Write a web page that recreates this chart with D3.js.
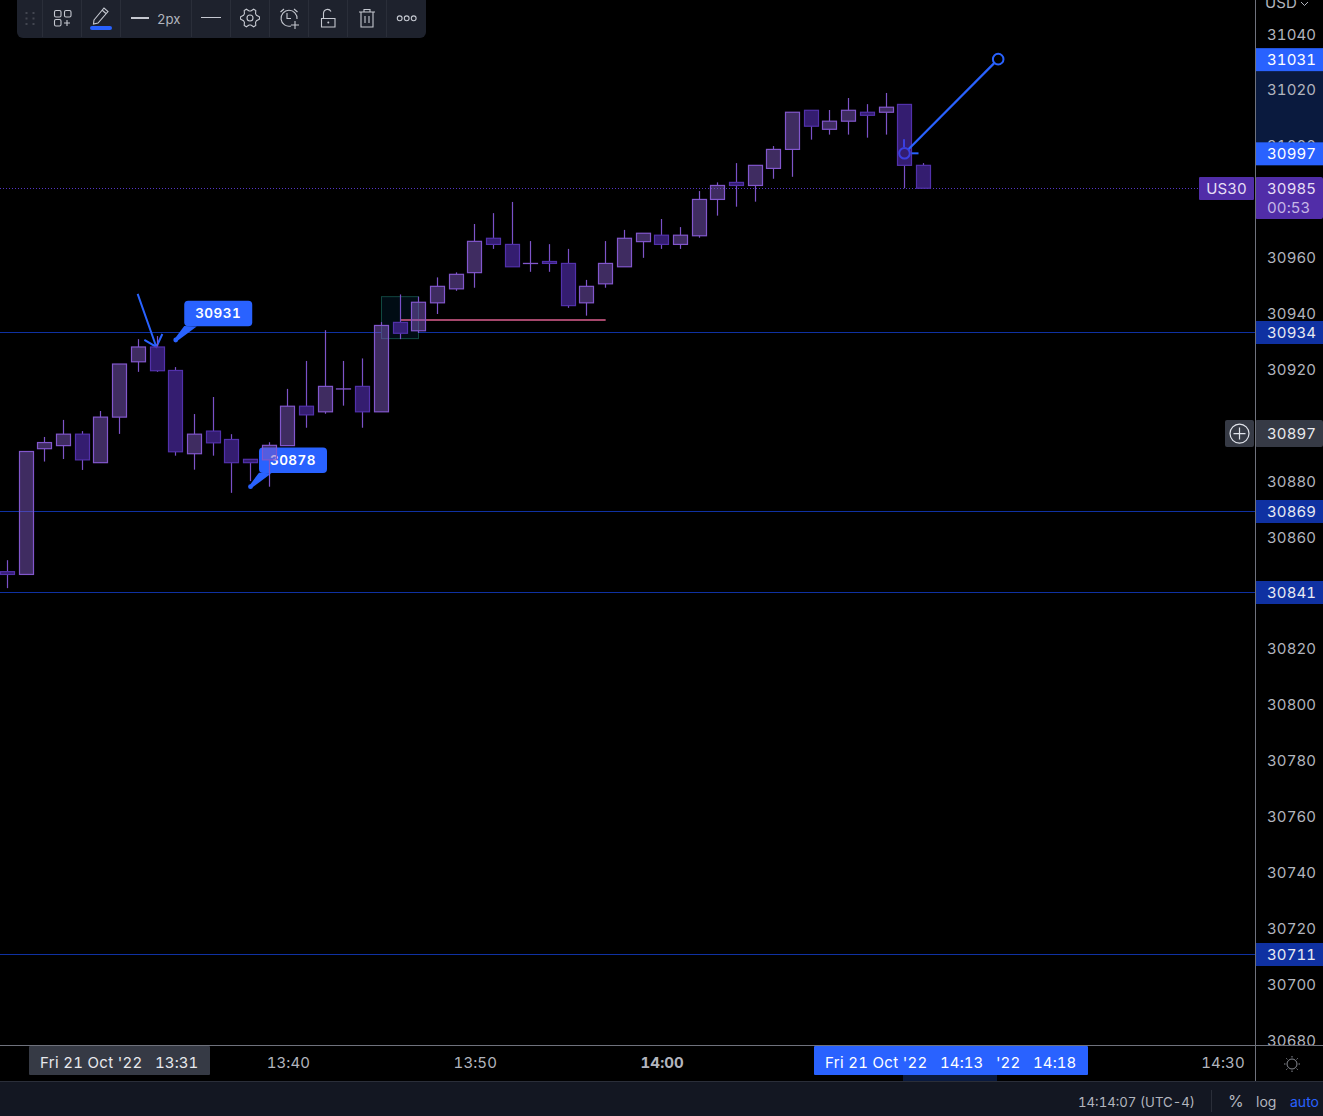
<!DOCTYPE html>
<html><head><meta charset="utf-8">
<script src="https://cdn.jsdelivr.net/npm/d3@7"></script>
<style>html,body{margin:0;padding:0;background:#000;overflow:hidden}svg{display:block}text{font-family:Inter,"Noto Sans",sans-serif;font-feature-settings:"tnum" 1;font-variant-numeric:tabular-nums}</style>
</head><body><svg id="c" width="1323" height="1116"></svg>
<script>
const opens=[30847.6,30846.6,30891.6,30892.7,30896.8,30886.6,30902.9,30922.7,30928,30919.6,30889.8,30897.9,30894.9,30887.8,30887.6,30892.7,30906.8,30904.8,30913,30913.9,30904.8,30936.8,30933.8,30943.8,30948.8,30954.6,30966.9,30964.7,30957.9,30958.6,30957.9,30943.8,30950.6,30956.7,30965.7,30968,30964.7,30967.8,30980.8,30986.9,30985.8,30991.9,30998.7,31012.7,31005.9,31008.8,31012,31012,31014.8,30993];
const closes=[30846.6,30890.6,30893.8,30896.8,30887.6,30902.9,30921.9,30928,30919.5,30890.5,30896.8,30893.7,30886.6,30886.6,30892.8,30906.8,30903.7,30913.9,30913,30904.8,30935.7,30932.9,30944,30949.7,30954,30965.8,30964.7,30956.7,30957.9,30957.9,30942.8,30949.7,30957.9,30966.9,30968.7,30964.7,30968,30980.8,30985.8,30985.8,30993,30998.7,31012,31007,31008.8,31012.7,31010.9,31013.8,30993,30984.8];
const highs=[30851.7,30890.6,30895.8,30901.9,30897.9,30905.1,30921.9,30930.8,30931.9,30920.8,30904,30910.1,30896.8,30887.8,30893.9,30913,30923,30934,30923,30923.9,30936.9,30946.8,30946,30952.9,30954.7,30972,30975.9,30979.9,30965.9,30964.8,30963.1,30952,30965.9,30969.9,30968.7,30973.8,30970.9,30983.8,30986.9,30993.8,30993,30999.9,31012,31012.7,31012.8,31017.1,31014.9,31018.9,31014.8,30993.8];
const lows=[30841.7,30846.6,30887,30887.9,30884,30886.5,30896.9,30919.1,30919.1,30889.1,30884.1,30889.1,30875.8,30880,30878,30892.7,30899.1,30904.1,30907,30899.1,30904.8,30930.8,30933,30939.8,30948.1,30949.2,30963.1,30956.7,30954.9,30954.9,30942,30939.2,30949.2,30956.7,30959.9,30963.1,30963.1,30967.1,30975,30978.2,30980,30988.2,30988.9,31002.2,31004,31004,31002.9,31004,30984.8,30984.8];
const dirs=["d","u","u","u","d","u","u","u","d","d","u","d","d","d","u","u","d","u","u","d","u","d","u","u","u","u","d","d","u","d","d","u","u","u","u","d","u","u","u","d","u","u","u","d","u","u","d","u","d","d"];
const priceTicks=[31040,31020,31000,30980,30960,30940,30920,30900,30880,30860,30840,30820,30800,30780,30760,30740,30720,30700,30680];
const levels=[30933.4,30869.3,30840.3,30710.7];
const levelLabels=["30934","30869","30841","30711"];
const lastPrice=30985, lastLabel="30985", countdown="00:53", symbol="US30";
const cursorPrice=30897, cursorLabel="30897";
const toolA=31031, toolB=30997.3, toolALabel="31031", toolBLabel="30997";
const timeTickLabels=["13:40","13:50","14:00","14:30"];
const timeTickMinutes=[15,25,35,65];
const callouts=[{label:"30931",i:9,p:30930.5},{label:"30878",i:13,p:30878}];

const W=1323,H=1116,axisX=1255,paneB=1045,timeB=1081;
const y=d3.scaleLinear().domain([31040,30680]).range([34,1040]);
const x=d3.scaleLinear().domain([0,65]).range([7.5,1222.5]);
const svg=d3.select("#c");
const colors={up:{fill:"#7e57c2",op:.5,stroke:"#8257cc",wick:"#7e54c8"},d:{fill:"#4a2aa0",op:.7,stroke:"#5231ab",wick:"#7a50c8"}};
const FONT=15, LS=.1, levelBlue="#0f31a2";

svg.append("rect").attr("width",W).attr("height",H).attr("fill","#000");

const plot=svg.append("g");
plot.selectAll("line.lvl").data(levels).join("line").attr("x1",0).attr("x2",axisX)
  .attr("y1",d=>Math.round(y(d))+.5).attr("y2",d=>Math.round(y(d))+.5).attr("stroke",levelBlue);
plot.append("line").attr("x1",0).attr("x2",1199).attr("y1",Math.round(y(lastPrice))+.5).attr("y2",Math.round(y(lastPrice))+.5)
  .attr("stroke","#5535c4").attr("stroke-dasharray","1 2");

plot.append("rect").attr("x",Math.floor(x(21))-18.5).attr("y",y(30946)).attr("width",37).attr("height",y(30931)-y(30946))
  .attr("fill","#010c14").attr("stroke","#114840");
plot.append("line").attr("x1",x(21)).attr("x2",x(32)).attr("y1",Math.round(y(30937.7))).attr("y2",Math.round(y(30937.7))).attr("stroke","#a5476b").attr("stroke-width",2);

const blue="#2962ff";
const ax=x(7)+18, ay=y(30928);
plot.append("path").attr("fill","none").attr("stroke",blue).attr("stroke-width",2)
  .attr("d",`M${x(7)-0.7} ${y(30947)}L${ax} ${ay}M${ax-12} ${ay-7}L${ax} ${ay}L${ax+6} ${ay-13}`);

callouts.forEach(c=>{
  const px=x(c.i),py=y(c.p),g=plot.append("g");
  const rx=px+8.5,ry=py-39.3;
  g.append("path").attr("fill",blue).attr("d",`M${px-.5} ${py-2}L${px+1.5} ${py+1}L${px+21} ${py-13.5}L${px+8.5} ${py-14}Z`);
  g.append("circle").attr("cx",px).attr("cy",py).attr("r",2.4).attr("fill",blue);
  g.append("rect").attr("x",rx).attr("y",ry).attr("width",68).attr("height",25.5).attr("rx",4).attr("fill",blue);
  g.append("text").attr("x",rx+34).attr("y",ry+17.3).attr("text-anchor","middle").attr("fill","#fff")
    .attr("font-size",13.5).attr("font-weight",600).attr("letter-spacing",.5).text(c.label);
});

const tx1=Math.floor(x(48))+.5,ty1=y(toolB),tx2=x(53),ty2=y(toolA);

const candles=plot.append("g").selectAll("g").data(opens.map((o,i)=>({i,o,c:closes[i],h:highs[i],l:lows[i],dir:dirs[i]=="u"?"up":"d"}))).join("g");
candles.append("line").attr("x1",d=>Math.floor(x(d.i))+.5).attr("x2",d=>Math.floor(x(d.i))+.5)
  .attr("y1",d=>y(d.h)).attr("y2",d=>y(Math.max(d.o,d.c))).attr("stroke",d=>colors[d.dir].wick).attr("stroke-width",1.2);
candles.append("line").attr("x1",d=>Math.floor(x(d.i))+.5).attr("x2",d=>Math.floor(x(d.i))+.5)
  .attr("y1",d=>y(Math.min(d.o,d.c))).attr("y2",d=>y(d.l)).attr("stroke",d=>colors[d.dir].wick).attr("stroke-width",1.2);
candles.append("rect").attr("x",d=>Math.floor(x(d.i))-6.5).attr("width",14)
  .attr("y",d=>y(Math.max(d.o,d.c))).attr("height",d=>Math.max(.1,Math.abs(y(d.o)-y(d.c))))
  .attr("fill",d=>colors[d.dir].fill).attr("fill-opacity",d=>colors[d.dir].op)
  .attr("stroke",d=>colors[d.dir].stroke).attr("stroke-width",1.2);

plot.append("line").attr("x1",tx1+4).attr("y1",ty1-4).attr("x2",tx2-4).attr("y2",ty2+4).attr("stroke",blue).attr("stroke-width",2.2);
plot.append("circle").attr("cx",tx2).attr("cy",ty2).attr("r",5.3).attr("fill","#000").attr("stroke",blue).attr("stroke-width",2);
plot.append("circle").attr("cx",tx1).attr("cy",ty1).attr("r",5.3).attr("fill","none").attr("stroke","#3a3fe0").attr("stroke-width",2);
plot.append("path").attr("fill","none").attr("stroke","#3a3fe0").attr("stroke-width",2).attr("d",`M${tx1-.5} ${ty1-14}V${ty1-6}`);
plot.append("path").attr("fill","none").attr("stroke",blue).attr("stroke-width",2).attr("d",`M${tx1+7} ${ty1}H${tx1+14}`);

svg.append("rect").attr("x",axisX).attr("y",0).attr("width",W-axisX).attr("height",paneB).attr("fill","#000");
svg.append("rect").attr("x",0).attr("y",paneB).attr("width",W).attr("height",timeB-paneB).attr("fill","#000");
svg.append("rect").attr("x",0).attr("y",timeB).attr("width",W).attr("height",H-timeB).attr("fill","#131722");
svg.append("rect").attr("x",axisX).attr("y",y(toolA)).attr("width",W-axisX).attr("height",y(toolB)-y(toolA)).attr("fill","#0a1a3e");

const pa=svg.append("g").attr("transform",`translate(${axisX+12},.2)`)
  .call(d3.axisRight(y).tickValues(priceTicks).tickSize(0).tickPadding(0).tickFormat(d3.format("d")));
pa.select(".domain").remove();
pa.selectAll("text").attr("fill","#b2b5be").attr("font-size",FONT).attr("letter-spacing",LS).attr("font-family","Inter");
svg.append("rect").attr("x",axisX).attr("y",paneB).attr("width",W-axisX).attr("height",36).attr("fill","#000");
svg.append("text").attr("x",axisX+10).attr("y",8).attr("fill","#b2b5be").attr("font-size",FONT).attr("letter-spacing",LS).text("USD");
svg.append("path").attr("d","M1301 2L1304.5 5.5L1308 2").attr("fill","none").attr("stroke","#b2b5be").attr("stroke-width",1);

function tagText(px,py,txt,color,anchor){
  return svg.append("text").attr("x",px).attr("y",py).attr("fill",color).attr("font-size",FONT).attr("letter-spacing",LS)
    .attr("text-anchor",anchor||"start").text(txt);
}
function priceTag(yc,txt,fill,color){
  svg.append("rect").attr("x",axisX).attr("y",yc-11.5).attr("width",W-axisX).attr("height",23).attr("fill",fill);
  tagText(axisX+12,yc+5,txt,color||"#fff");
}
levels.forEach((l,i)=>priceTag(Math.round(y(l))+.5,levelLabels[i],levelBlue,"#e8eaf2"));
priceTag(y(toolA)+.5,toolALabel,blue);
priceTag(y(toolB)+.5,toolBLabel,blue);

const ly=Math.round(y(lastPrice));
svg.append("rect").attr("x",axisX).attr("y",ly-11).attr("width",W-axisX).attr("height",42).attr("rx",2).attr("fill","#512da8");
tagText(axisX+12,ly+5.5,lastLabel,"#e6dff5");
tagText(axisX+12,ly+25,countdown,"#c5b6e6");
svg.append("rect").attr("x",1199).attr("y",ly-11).attr("width",55).attr("height",23).attr("rx",1).attr("fill","#512da8");
tagText(1226.5,ly+5.5,symbol,"#e6dff5","middle");

const cy=y(cursorPrice);
svg.append("rect").attr("x",axisX).attr("y",cy-13.5).attr("width",W-axisX).attr("height",27).attr("rx",2).attr("fill","#363a45");
tagText(axisX+12,cy+5.5,cursorLabel,"#e8e9ed");
svg.append("rect").attr("x",1225).attr("y",cy-13.5).attr("width",29).attr("height",27).attr("rx",2).attr("fill","#363a45");
svg.append("circle").attr("cx",1239.5).attr("cy",cy).attr("r",9.5).attr("fill","none").attr("stroke","#e0e3eb").attr("stroke-width",1.2);
svg.append("path").attr("d",`M1239.5 ${cy-6}V${cy+6}M1233.5 ${cy}H1245.5`).attr("stroke","#e0e3eb").attr("stroke-width",1.2);

const ta=svg.append("g").attr("transform",`translate(0,${paneB+12})`)
  .call(d3.axisBottom(x).tickValues(timeTickMinutes).tickSize(0).tickPadding(0).tickFormat((d,i)=>timeTickLabels[i]));
ta.select(".domain").remove();
ta.selectAll("text").attr("fill","#b2b5be").attr("font-size",FONT).attr("letter-spacing",LS).attr("font-family","Inter")
  .attr("font-weight",(d,i)=>timeTickLabels[i]=="14:00"?700:400);

svg.append("rect").attr("x",29).attr("y",paneB+1).attr("width",181).attr("height",29).attr("rx",1).attr("fill","#363a45");
tagText(40,paneB+22.5,"Fri 21 Oct '22","#e8e9ed").attr("letter-spacing",.3);
tagText(155,paneB+22.5,"13:31","#e8e9ed");
svg.append("rect").attr("x",903).attr("y",paneB+30).attr("width",94).attr("height",6).attr("fill","#0a1a3e");
svg.append("rect").attr("x",814).attr("y",paneB+1).attr("width",274).attr("height",29).attr("rx",1).attr("fill",blue);
[["Fri 21 Oct '22",825,.3],["14:13",940,LS],["'22",996,LS],["14:18",1033,LS]].forEach(t=>
  tagText(t[1],paneB+22.5,t[0],"#fff").attr("letter-spacing",t[2]));

svg.append("line").attr("x1",axisX+.5).attr("x2",axisX+.5).attr("y1",0).attr("y2",timeB).attr("stroke","#6f727c");
svg.append("line").attr("x1",0).attr("x2",W).attr("y1",paneB+.5).attr("y2",paneB+.5).attr("stroke","#6f727c");
svg.append("line").attr("x1",0).attr("x2",W).attr("y1",timeB+.5).attr("y2",timeB+.5).attr("stroke","#2a2e39");

const sun=svg.append("g").attr("transform","translate(1292,1064)").attr("stroke","#8a8d96").attr("fill","none");
sun.append("circle").attr("r",5);
d3.range(8).forEach(k=>{const a=k*Math.PI/4;sun.append("line").attr("x1",6.5*Math.cos(a)).attr("y1",6.5*Math.sin(a)).attr("x2",8*Math.cos(a)).attr("y2",8*Math.sin(a));});

const status=(px,txt,fs,col)=>svg.append("text").attr("x",px).attr("y",1107).attr("fill",col).attr("font-size",fs).text(txt);
status(1078,"14:14:07 (UTC-4)",13.2,"#b2b5be");
svg.append("line").attr("x1",1211.5).attr("x2",1211.5).attr("y1",1090).attr("y2",1112).attr("stroke","#2a2e39");
status(1228,"%",16,"#b2b5be");
status(1256,"log",14,"#b2b5be");
status(1290,"auto",14,blue);

const tb=svg.append("g");
tb.append("rect").attr("x",17).attr("y",-6).attr("width",409).attr("height",44).attr("rx",6).attr("fill","#1e222d");
[42.5,81.5,120.5,191.5,230.5,269.5,308.5,347.5,386.5].forEach(v=>tb.append("line").attr("x1",v).attr("x2",v).attr("y1",0).attr("y2",37).attr("stroke","#2a2e39"));
const ic="#c5c8d0";
d3.range(3).forEach(r=>[26.5,33.5].forEach(v=>tb.append("rect").attr("x",v-1).attr("y",12+r*5.5).attr("width",2).attr("height",2).attr("fill","#434651")));
const s1=tb.append("g").attr("fill","none").attr("stroke",ic).attr("stroke-width",1.1);
[[54.5,10.5],[64.5,10.5],[54.5,19.5]].forEach(p=>s1.append("rect").attr("x",p[0]).attr("y",p[1]).attr("width",6.5).attr("height",6.5).attr("rx",1.5));
s1.append("path").attr("d","M67 20V26M64 23H70");
tb.append("path").attr("fill","none").attr("stroke",ic).attr("stroke-width",1.1).attr("d","M94 20L104 8L108 11.5L98 23L93.5 24ZM102 10L106 13.5");
tb.append("rect").attr("x",90).attr("y",26).attr("width",22).attr("height",4).attr("rx",2).attr("fill",blue);
tb.append("rect").attr("x",131).attr("y",17).attr("width",18).attr("height",2).attr("fill",ic);
tb.append("text").attr("x",157).attr("y",23.5).attr("fill","#b2b5be").attr("font-size",13.2).text("2px");
tb.append("line").attr("x1",201).attr("x2",221).attr("y1",17.5).attr("y2",17.5).attr("stroke",ic);
const gear=tb.append("g").attr("transform","translate(250,18)").attr("fill","none").attr("stroke",ic).attr("stroke-width",1.1);
gear.append("circle").attr("r",3);
gear.append("path").attr("d",d3.line().curve(d3.curveLinearClosed)(d3.range(24).map(k=>{const a=(k-.5)*Math.PI/12,r=[9.5,9.5,7,7][k%4];return [r*Math.cos(a),r*Math.sin(a)];})));
tb.append("path").attr("fill","none").attr("stroke",ic).attr("stroke-width",1.1)
  .attr("d","M291 26A8 8 0 1 1 297 19M287 13V18.5H291M280.5 12L284 9M294 9L297.5 12M295 21V29M291 25H299");
tb.append("path").attr("fill","none").attr("stroke",ic).attr("stroke-width",1.1).attr("d","M321.5 18.5H335V27H321.5ZM323.5 18.5V13A4 4 0 0 1 331 11.5");
tb.append("circle").attr("cx",328.3).attr("cy",22.5).attr("r",1).attr("fill",ic);
tb.append("path").attr("fill","none").attr("stroke",ic).attr("stroke-width",1.1).attr("d","M359 12H375M364 12V9.5H370V12M361 12V27H373V12M365 16V23M369 16V23");
[399.7,406.7,413.7].forEach(v=>tb.append("circle").attr("cx",v).attr("cy",18.3).attr("r",2.4).attr("fill","none").attr("stroke",ic).attr("stroke-width",1.1));
</script></body></html>
